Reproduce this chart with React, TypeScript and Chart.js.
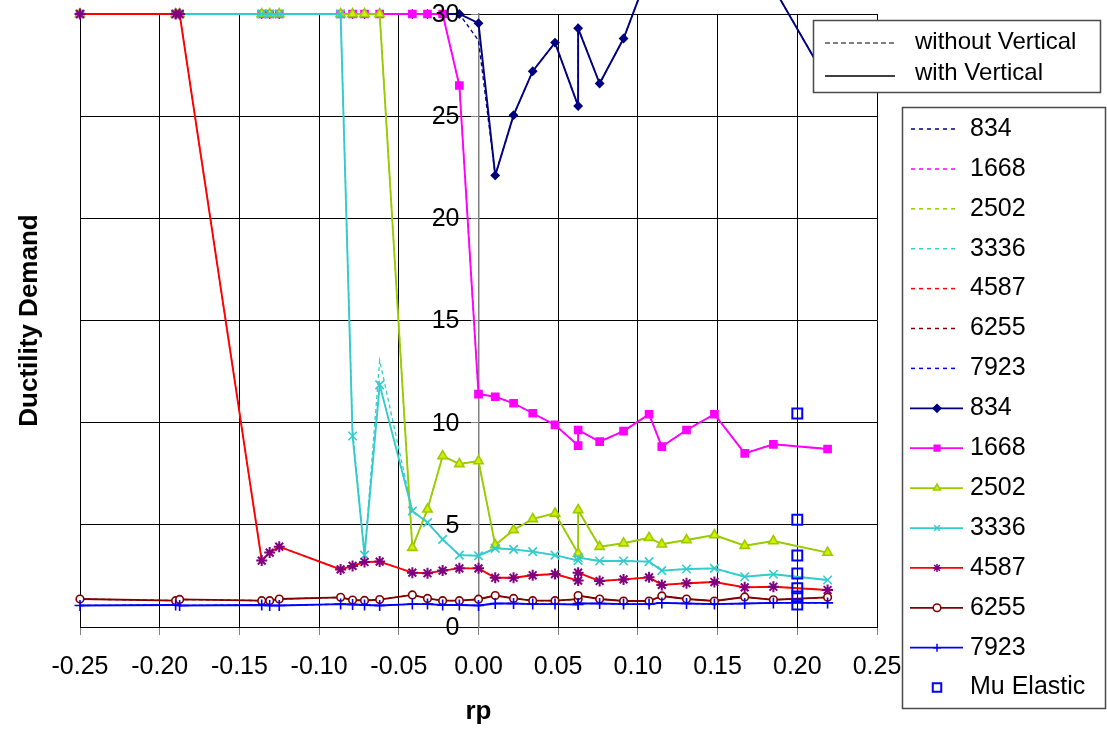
import React, { useEffect, useRef } from "react";
import { Chart, registerables } from "chart.js";

Chart.register(...registerables);

// ---------- data ----------
const rp = [-0.25, -0.19, -0.1875, -0.136, -0.131, -0.125, -0.0865, -0.079, -0.0715, -0.062, -0.0415, -0.032, -0.0225, -0.012, 0, 0.0105, 0.022, 0.034, 0.048, 0.0625, 0.0625, 0.076, 0.091, 0.107, 0.115, 0.1305, 0.148, 0.167, 0.185, 0.219];

// with vertical (solid)
const with834 = [30, 30, 30, 30, 30, 30, 30, 30, 30, 30, 30, 30, 30, 30, 29.55, 22.1, 25.05, 27.2, 28.6, 25.5, 29.3, 26.6, 28.8, 32.1, 33.5, 35.0, 34.0, 32.5, 31.3, 26.7];
const with1668 = [30, 30, 30, 30, 30, 30, 30, 30, 30, 30, 30, 30, 30, 26.5, 11.4, 11.27, 10.95, 10.46, 9.89, 8.88, 9.64, 9.07, 9.59, 10.41, 8.83, 9.64, 10.41, 8.5, 8.94, 8.71];
const with2502 = [30, 30, 30, 30, 30, 30, 30, 30, 30, 30, 3.88, 5.76, 8.37, 7.98, 8.12, 4.01, 4.75, 5.29, 5.56, 3.6, 5.73, 3.93, 4.1, 4.37, 4.05, 4.26, 4.5, 3.98, 4.21, 3.64];
const with3336 = [30, 30, 30, 30, 30, 30, 30, 9.35, 3.52, 11.85, 5.68, 5.11, 4.29, 3.52, 3.49, 3.85, 3.8, 3.69, 3.52, 3.25, 3.4, 3.23, 3.23, 3.2, 2.76, 2.84, 2.87, 2.46, 2.58, 2.3];
const with4587 = [30, 30, 30, 3.25, 3.64, 3.93, 2.82, 2.99, 3.18, 3.2, 2.66, 2.63, 2.76, 2.87, 2.87, 2.41, 2.41, 2.53, 2.59, 2.27, 2.66, 2.25, 2.33, 2.43, 2.06, 2.14, 2.2, 1.94, 1.97, 1.81];
const with6255 = [1.37, 1.29, 1.35, 1.29, 1.29, 1.37, 1.45, 1.32, 1.3, 1.34, 1.57, 1.4, 1.29, 1.29, 1.36, 1.54, 1.4, 1.29, 1.29, 1.36, 1.54, 1.37, 1.27, 1.27, 1.52, 1.37, 1.27, 1.47, 1.33, 1.45];
const with7923 = [1.05, 1.08, 1.05, 1.08, 1.05, 1.05, 1.12, 1.1, 1.08, 1.05, 1.12, 1.12, 1.08, 1.08, 1.05, 1.15, 1.15, 1.12, 1.12, 1.1, 1.15, 1.15, 1.12, 1.12, 1.18, 1.15, 1.12, 1.15, 1.18, 1.18];

// without vertical (dashed)
const without834 = [30, 30, 30, 30, 30, 30, 30, 30, 30, 30, 30, 30, 30, 30, 28.7, 22.1, 25.05, 27.2, 28.6, 25.5, 29.3, 26.6, 28.8, 32.1, 33.5, 35.0, 34.0, 32.5, 31.3, 26.7];
const without1668 = [30, 30, 30, 30, 30, 30, 30, 30, 30, 30, 30, 30, 30, 26.5, 11.4, 11.27, 10.95, 10.46, 9.89, 8.88, 9.64, 9.07, 9.59, 10.41, 8.83, 9.64, 10.41, 8.5, 8.94, 8.71];
const without2502 = [30, 30, 30, 30, 30, 30, 30, 30, 30, 30, 3.88, 5.76, 8.37, 7.98, 8.12, 4.01, 4.75, 5.29, 5.56, 3.6, 5.73, 3.93, 4.1, 4.37, 4.05, 4.26, 4.5, 3.98, 4.21, 3.64];
const without3336 = [30, 30, 30, 30, 30, 30, 30, 9.6, 3.52, 13.05, 5.68, 5.11, 4.29, 3.52, 3.49, 3.85, 3.8, 3.69, 3.52, 3.25, 3.4, 3.23, 3.23, 3.2, 2.76, 2.84, 2.87, 2.46, 2.58, 2.3];
const without4587 = [30, 30, 30, 3.25, 3.64, 3.93, 2.82, 2.99, 3.18, 3.2, 2.66, 2.63, 2.76, 2.87, 2.87, 2.41, 2.41, 2.53, 2.59, 2.27, 2.66, 2.25, 2.33, 2.43, 2.06, 2.14, 2.2, 1.94, 1.97, 1.81];
const without6255 = [1.37, 1.29, 1.35, 1.29, 1.29, 1.37, 1.45, 1.32, 1.3, 1.34, 1.57, 1.4, 1.29, 1.29, 1.36, 1.54, 1.4, 1.29, 1.29, 1.36, 1.54, 1.37, 1.27, 1.27, 1.52, 1.37, 1.27, 1.47, 1.33, 1.45];
const without7923 = [1.05, 1.08, 1.05, 1.08, 1.05, 1.05, 1.12, 1.1, 1.08, 1.05, 1.12, 1.12, 1.08, 1.08, 1.05, 1.15, 1.15, 1.12, 1.12, 1.1, 1.15, 1.15, 1.12, 1.12, 1.18, 1.15, 1.12, 1.15, 1.18, 1.18];

const muElasticRp = [0.2, 0.2, 0.2, 0.2, 0.2, 0.2, 0.2];
const muElastic = [10.45, 5.25, 3.5, 2.62, 1.9, 1.5, 1.1];

const seriesNames = ["834", "1668", "2502", "3336", "4587", "6255", "7923"];
const elasticName = "Mu Elastic";
const withoutName = "without Vertical";
const withName = "with Vertical";
const xTitle = "rp";
const yTitle = "Ductility Demand";
const xTickLabels = ["-0.25", "-0.20", "-0.15", "-0.10", "-0.05", "0.00", "0.05", "0.10", "0.15", "0.20", "0.25"];
const yTickValues = [0, 5, 10, 15, 20, 25, 30];
const yTickLabels = ["0", "5", "10", "15", "20", "25", "30"];

// ---------- styles ----------
const FONT = '"Liberation Sans", Arial, Helvetica, sans-serif';
type St = { color: string; ps: string; r: number; bg: string; pb: string };
const styles: St[] = [
  { color: "#000080", ps: "rectRot", r: 3.8, bg: "#000080", pb: "#000080" },
  { color: "#FF00FF", ps: "rect", r: 5, bg: "#FF00FF", pb: "#FF00FF" },
  { color: "#99CC00", ps: "triangle", r: 5.4, bg: "#D8EC00", pb: "#99CC00" },
  { color: "#33CCCC", ps: "crossRot", r: 6, bg: "#33CCCC", pb: "#33CCCC" },
  { color: "#FF0000", ps: "star", r: 5.5, bg: "#800080", pb: "#800080" },
  { color: "#800000", ps: "circle", r: 3.8, bg: "#FFFFFF", pb: "#800000" },
  { color: "#0000FF", ps: "cross", r: 5.5, bg: "#0000FF", pb: "#0000FF" },
];

const withSeries = [with834, with1668, with2502, with3336, with4587, with6255, with7923];
const withoutSeries = [without834, without1668, without2502, without3336, without4587, without6255, without7923];

function drawMarker(ctx: CanvasRenderingContext2D, ps: string, x: number, y: number, r: number, bg: string, pb: string, lw = 1.5) {
  ctx.save();
  ctx.fillStyle = bg;
  ctx.strokeStyle = pb;
  ctx.lineWidth = lw;
  ctx.beginPath();
  const s = r * Math.SQRT1_2;
  switch (ps) {
    case "rectRot":
      ctx.moveTo(x, y - r); ctx.lineTo(x + r, y); ctx.lineTo(x, y + r); ctx.lineTo(x - r, y); ctx.closePath();
      ctx.fill(); ctx.stroke(); break;
    case "rect":
      ctx.rect(x - s, y - s, 2 * s, 2 * s); ctx.fill(); ctx.stroke(); break;
    case "openRect":
      ctx.rect(x - s, y - s, 2 * s, 2 * s); ctx.stroke(); break;
    case "triangle":
      ctx.moveTo(x, y - r); ctx.lineTo(x + r * 0.87, y + r * 0.5); ctx.lineTo(x - r * 0.87, y + r * 0.5); ctx.closePath();
      ctx.fill(); ctx.stroke(); break;
    case "crossRot":
      ctx.moveTo(x - s, y - s); ctx.lineTo(x + s, y + s); ctx.moveTo(x + s, y - s); ctx.lineTo(x - s, y + s); ctx.stroke(); break;
    case "cross":
      ctx.moveTo(x - r, y); ctx.lineTo(x + r, y); ctx.moveTo(x, y - r); ctx.lineTo(x, y + r); ctx.stroke(); break;
    case "star":
      ctx.moveTo(x - s, y - s); ctx.lineTo(x + s, y + s); ctx.moveTo(x + s, y - s); ctx.lineTo(x - s, y + s);
      ctx.moveTo(x - r, y); ctx.lineTo(x + r, y); ctx.moveTo(x, y - r); ctx.lineTo(x, y + r); ctx.stroke(); break;
    case "circle":
      ctx.arc(x, y, r, 0, Math.PI * 2); ctx.fill(); ctx.stroke(); break;
  }
  ctx.restore();
}

const overlayPlugin = {
  id: "overlay",
  afterDatasetsDraw(chart: any) {
    const ctx: CanvasRenderingContext2D = chart.ctx;
    const xs = chart.scales.x;
    const ys = chart.scales.y;
    const ax = xs.getPixelForValue(0);
    ctx.save();
    ctx.fillStyle = "#000";
    ctx.font = `25px ${FONT}`;
    ctx.textAlign = "right";
    ctx.textBaseline = "middle";
    yTickValues.forEach((v, i) => {
      ctx.fillText(yTickLabels[i], ax - 19, ys.getPixelForValue(v) + 1);
    });
    ctx.restore();
  },
  afterDraw(chart: any) {
    const ctx: CanvasRenderingContext2D = chart.ctx;
    const ca = chart.chartArea;
    ctx.save();
    // axis titles
    ctx.fillStyle = "#000";
    ctx.font = `bold 26px ${FONT}`;
    ctx.textAlign = "center";
    ctx.textBaseline = "middle";
    ctx.fillText(xTitle, (ca.left + ca.right) / 2, 712);
    ctx.save();
    ctx.translate(30, (ca.top + ca.bottom) / 2);
    ctx.rotate(-Math.PI / 2);
    ctx.fillText(yTitle, 0, 0);
    ctx.restore();

    // legend box 1
    ctx.fillStyle = "#FFFFFF";
    ctx.fillRect(813, 20, 287, 72);
    ctx.strokeStyle = "#4a4a4a";
    ctx.lineWidth = 1.5;
    ctx.strokeRect(813.5, 20.5, 287, 72);
    ctx.strokeStyle = "#000";
    ctx.lineWidth = 1.2;
    ctx.setLineDash([5, 3]);
    ctx.beginPath(); ctx.moveTo(825, 43); ctx.lineTo(895, 43); ctx.stroke();
    ctx.setLineDash([]);
    ctx.lineWidth = 1.5;
    ctx.beginPath(); ctx.moveTo(825, 76); ctx.lineTo(895, 76); ctx.stroke();
    ctx.fillStyle = "#000";
    ctx.font = `24px ${FONT}`;
    ctx.textAlign = "left";
    ctx.textBaseline = "middle";
    ctx.fillText(withoutName, 915, 42);
    ctx.fillText(withName, 915, 73);

    // legend box 2
    ctx.fillStyle = "#FFFFFF";
    ctx.fillRect(902, 107, 203, 601);
    ctx.strokeStyle = "#4a4a4a";
    ctx.lineWidth = 1.5;
    ctx.strokeRect(902.5, 107.5, 203, 601);
    const y0 = 129;
    const dy = 39.9;
    ctx.font = `25px ${FONT}`;
    for (let i = 0; i < 15; i++) {
      const y = y0 + i * dy;
      if (i < 7) {
        const st = styles[i];
        ctx.strokeStyle = st.color;
        ctx.lineWidth = 1.5;
        ctx.setLineDash([4, 4]);
        ctx.beginPath(); ctx.moveTo(911, y); ctx.lineTo(958, y); ctx.stroke();
        ctx.setLineDash([]);
        ctx.fillStyle = "#000";
        ctx.fillText(seriesNames[i], 970, y);
      } else if (i < 14) {
        const st = styles[i - 7];
        ctx.strokeStyle = st.color;
        ctx.lineWidth = 1.75;
        ctx.beginPath(); ctx.moveTo(910, y); ctx.lineTo(963, y); ctx.stroke();
        drawMarker(ctx, st.ps, 937, y, Math.min(st.r, 4), st.bg, st.pb, 1.5);
        ctx.fillStyle = "#000";
        ctx.fillText(seriesNames[i - 7], 970, y);
      } else {
        drawMarker(ctx, "openRect", 937, y, 6, "transparent", "#0000FF", 2);
        ctx.fillStyle = "#000";
        ctx.fillText(elasticName, 970, y);
      }
    }
    ctx.restore();
  },
};

export default function App() {
  const ref = useRef<HTMLCanvasElement | null>(null);
  useEffect(() => {
    document.body.style.margin = "0";
    const canvas = ref.current;
    if (!canvas) return;
    const datasets: any[] = [];
    withoutSeries.forEach((arr, i) => {
      datasets.push({
        label: seriesNames[i] + " without",
        data: rp.map((x, k) => ({ x, y: arr[k] })),
        borderColor: styles[i].color,
        borderWidth: 1.3,
        borderDash: [4, 3],
        pointRadius: 0,
        tension: 0,
        clip: false,
        order: 100 - i,
      });
    });
    withSeries.forEach((arr, i) => {
      const st = styles[i];
      datasets.push({
        label: seriesNames[i],
        data: rp.map((x, k) => ({ x, y: arr[k] })),
        borderColor: st.color,
        borderWidth: 1.9,
        pointStyle: st.ps,
        pointRadius: st.r,
        pointBackgroundColor: st.bg,
        pointBorderColor: st.pb,
        pointBorderWidth: st.ps === "star" ? 2 : 1.6,
        tension: 0,
        clip: false,
        order: 50 - i,
      });
    });
    datasets.push({
      label: elasticName,
      data: muElasticRp.map((x, k) => ({ x, y: muElastic[k] })),
      showLine: false,
      pointStyle: "rect",
      pointRadius: 7,
      pointBorderColor: "#0000FF",
      pointBackgroundColor: "rgba(0,0,0,0)",
      pointBorderWidth: 2,
      clip: false,
      order: 0,
    });

    const chart = new Chart(canvas, {
      type: "line",
      data: { datasets },
      options: {
        animation: false,
        responsive: false,
        devicePixelRatio: 1,
        layout: { padding: { left: 80, right: 230, top: 14, bottom: 0 } },
        plugins: { legend: { display: false }, tooltip: { enabled: false } },
        scales: {
          x: {
            type: "linear",
            min: -0.25,
            max: 0.25,
            ticks: {
              stepSize: 0.05,
              autoSkip: false,
              maxRotation: 0,
              padding: 17,
              color: "#000",
              font: { family: FONT, size: 25 },
              callback: (_v: any, i: number) => xTickLabels[i] ?? "",
            },
            grid: { color: "#000", lineWidth: 1, tickColor: "#808080", tickLength: 8 },
            border: { color: "#000", width: 1 },
            afterFit: (s: any) => { s.height = 103; s.paddingLeft = 0; s.paddingRight = 0; },
          },
          y: {
            type: "linear",
            min: 0,
            max: 30,
            position: { x: 0 } as any,
            ticks: { stepSize: 5, display: false },
            grid: { color: "#000", lineWidth: 1, tickColor: "#808080", tickLength: 7 },
            border: { color: "#808080", width: 1.5 },
            afterFit: (s: any) => { s.paddingTop = 0; s.paddingBottom = 0; },
          },
        },
      } as any,
      plugins: [overlayPlugin],
    });
    return () => chart.destroy();
  }, []);
  return (
    <div style={{ width: 1107, height: 730, background: "#fff" }}>
      <canvas ref={ref} width={1107} height={730} style={{ display: "block" }} />
    </div>
  );
}
